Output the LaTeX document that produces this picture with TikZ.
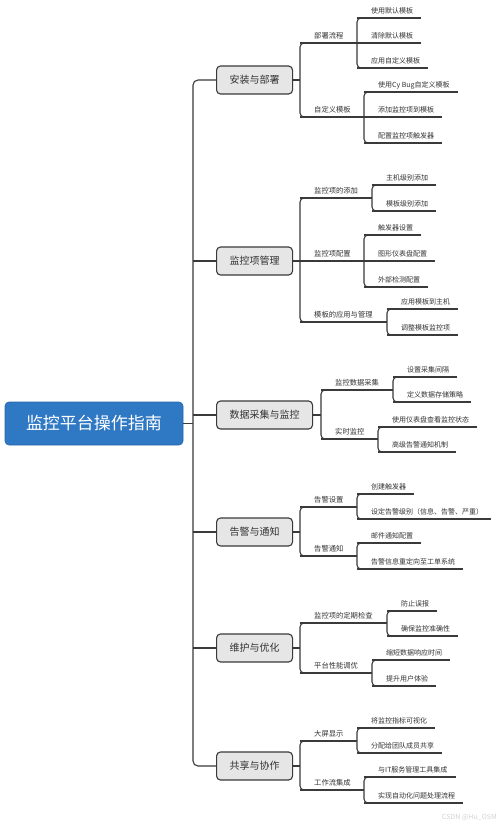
\documentclass[tikz,border=0pt]{standalone}
\usepackage{fontspec}
\setmainfont{Noto Sans CJK SC}
\usetikzlibrary{calc}
\definecolor{linec}{HTML}{3A3A3A}
\definecolor{txtc}{HTML}{333333}
\definecolor{rootc}{HTML}{2E78C4}
\definecolor{grayc}{HTML}{E6E6E6}
\definecolor{wmc}{HTML}{D4D4D4}
\tikzset{
  conn/.style={draw=linec, line width=1.1pt},
  rootbox/.style={fill=rootc, draw=rootc!85!black, line width=0.6pt, rounded corners=4pt,
    minimum width=178pt, minimum height=43pt, text=white,
    font=\fontsize{17}{20}\selectfont},
  topicbox/.style={fill=grayc, draw=linec, line width=1.1pt, rounded corners=4pt,
    inner xsep=13pt, minimum height=28pt, text=txtc, anchor=west,
    font=\fontsize{10}{12}\selectfont},
  subtxt/.style={inner sep=0pt, text=txtc, anchor=base west, font=\fontsize{7.3}{9}\selectfont},
  leaftxt/.style={inner sep=0pt, text=txtc, anchor=base west, font=\fontsize{7}{8.5}\selectfont},
}
% leaf: name, bracket x, y, text
\newcommand\leafitem[4]{%
  \coordinate (#1s) at (#2,#3);
  \node[leaftxt] (#1) at (#2+14,#3-5) {#4};
  \draw[conn] (#1s) -- (#1.east |- #1s) -- ++(8,0);
}
% sub: name, bracket x, y, text, next bracket x
\newcommand\branchitem[5]{%
  \coordinate (#1s) at (#2,#3);
  \coordinate (#1e) at (#5,#3);
  \node[subtxt] (#1) at (#2+14,#3-5) {#4};
  \draw[conn] (#1s) -- (#1e);
}
% bracket: x, top, bottom
\newcommand\brk[3]{\draw[conn, rounded corners=4pt] (#1+7,#2) -- (#1,#2) -- (#1,#3) -- (#1+7,#3);}
\begin{document}
\begin{tikzpicture}[x=1pt,y=-1pt]
\useasboundingbox[fill=white] (0,0) rectangle (500,828);

% root and trunk
\node[rootbox] (root) at (94,423.5) {监控平台操作指南};
\coordinate (trunk) at (193,423.5);
\node[topicbox] (t1) at (216,80) {安装与部署};
\node[topicbox] (t2) at (216,261) {监控项管理};
\node[topicbox] (t3) at (216,415) {数据采集与监控};
\node[topicbox] (t4) at (216,532) {告警与通知};
\node[topicbox] (t5) at (216,648) {维护与优化};
\node[topicbox] (t6) at (216,766) {共享与协作};
\draw[conn] (root.east) -- (trunk);
\draw[conn, rounded corners=5pt] (t1.west) -- (trunk |- t1.west) -- (trunk |- t6.west) -- (t6.west);
\draw[conn] (trunk |- t2.west) -- (t2.west);
\draw[conn] (trunk |- t3.west) -- (t3.west);
\draw[conn] (trunk |- t4.west) -- (t4.west);
\draw[conn] (trunk |- t5.west) -- (t5.west);

% ---- 1 安装与部署
\draw[conn] (t1.east) -- (300,80);
\brk{300}{43}{117}
\branchitem{s11}{300}{43}{部署流程}{357}
\brk{357}{18}{68}
\leafitem{l111}{357}{18}{使用默认模板}
\leafitem{l112}{357}{43}{清除默认模板}
\leafitem{l113}{357}{68}{应用自定义模板}
\branchitem{s12}{300}{117}{自定义模板}{364}
\brk{364}{92}{143}
\leafitem{l121}{364}{92}{使用Cy Bug自定义模板}
\leafitem{l122}{364}{117}{添加监控项到模板}
\leafitem{l123}{364}{143}{配置监控项触发器}

% ---- 2 监控项管理
\draw[conn] (t2.east) -- (300,261);
\brk{300}{198}{322}
\branchitem{s21}{300}{198}{监控项的添加}{372}
\brk{372}{185}{211}
\leafitem{l211}{372}{185}{主机级别添加}
\leafitem{l212}{372}{211}{模板级别添加}
\branchitem{s22}{300}{261}{监控项配置}{364}
\brk{364}{235}{287}
\leafitem{l221}{364}{235}{触发器设置}
\leafitem{l222}{364}{261}{图形仪表盘配置}
\leafitem{l223}{364}{287}{外部检测配置}
\branchitem{s23}{300}{322}{模板的应用与管理}{387}
\brk{387}{309}{335}
\leafitem{l231}{387}{309}{应用模板到主机}
\leafitem{l232}{387}{335}{调整模板监控项}

% ---- 3 数据采集与监控
\draw[conn] (t3.east) -- (321,415);
\brk{321}{390}{439}
\branchitem{s31}{321}{390}{监控数据采集}{393}
\brk{393}{377}{402}
\leafitem{l311}{393}{377}{设置采集间隔}
\leafitem{l312}{393}{402}{定义数据存储策略}
\branchitem{s32}{321}{439}{实时监控}{378}
\brk{378}{427}{452}
\leafitem{l321}{378}{427}{使用仪表盘查看监控状态}
\leafitem{l322}{378}{452}{高级告警通知机制}

% ---- 4 告警与通知
\draw[conn] (t4.east) -- (300,532);
\brk{300}{507}{556}
\branchitem{s41}{300}{507}{告警设置}{357}
\brk{357}{494}{519}
\leafitem{l411}{357}{494}{创建触发器}
\leafitem{l412}{357}{519}{设定告警级别（信息、告警、严重）}
\branchitem{s42}{300}{556}{告警通知}{357}
\brk{357}{543}{569}
\leafitem{l421}{357}{543}{邮件通知配置}
\leafitem{l422}{357}{569}{告警信息重定向至工单系统}

% ---- 5 维护与优化
\draw[conn] (t5.east) -- (300,648);
\brk{300}{623}{673}
\branchitem{s51}{300}{623}{监控项的定期检查}{387}
\brk{387}{611}{636}
\leafitem{l511}{387}{611}{防止误报}
\leafitem{l512}{387}{636}{确保监控准确性}
\branchitem{s52}{300}{673}{平台性能调优}{372}
\brk{372}{660}{686}
\leafitem{l521}{372}{660}{缩短数据响应时间}
\leafitem{l522}{372}{686}{提升用户体验}

% ---- 6 共享与协作
\draw[conn] (t6.east) -- (300,766);
\brk{300}{741}{790}
\branchitem{s61}{300}{741}{大屏显示}{357}
\brk{357}{728}{753}
\leafitem{l611}{357}{728}{将监控指标可视化}
\leafitem{l612}{357}{753}{分配给团队成员共享}
\branchitem{s62}{300}{790}{工作流集成}{364}
\brk{364}{777}{803}
\leafitem{l621}{364}{777}{与IT服务管理工具集成}
\leafitem{l622}{364}{803}{实现自动化问题处理流程}

% watermark
\node[inner sep=0pt, anchor=east, text=wmc, font=\fontsize{7}{8}\selectfont] (wm) at (497,817) {CSDN @Hu\_OSM};
\end{tikzpicture}
\end{document}
